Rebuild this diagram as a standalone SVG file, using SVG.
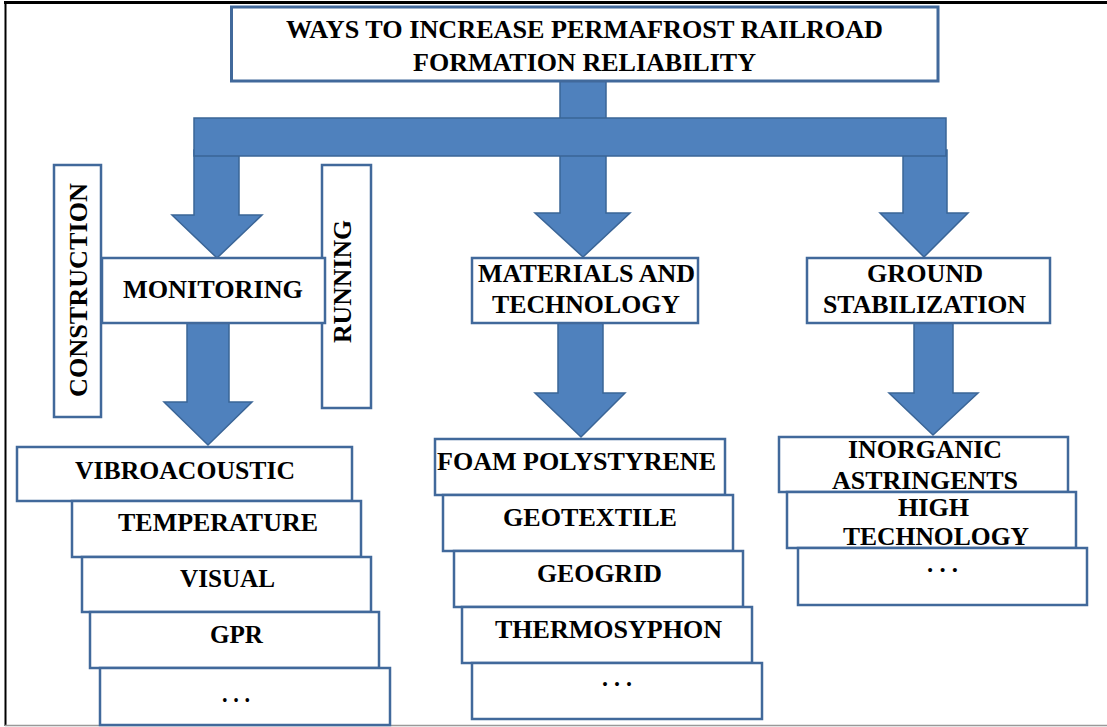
<svg xmlns="http://www.w3.org/2000/svg" width="1107" height="727" viewBox="0 0 1107 727">
<style>
.box{fill:#fff;stroke:#41699B;stroke-width:2.5}
.arr{fill:#4F81BD;stroke:#3A6597;stroke-width:1.5;stroke-linejoin:miter}
text{font-family:"Liberation Serif","Times New Roman",serif;font-weight:bold;font-size:26px;fill:#000}
.c{text-anchor:middle}
</style>
<rect x="0" y="0" width="1107" height="727" fill="#fff"/>
<line x1="4" y1="2.5" x2="1107" y2="2.5" stroke="#000" stroke-width="3"/>
<line x1="5.5" y1="1" x2="5.5" y2="726" stroke="#000" stroke-width="2"/>
<line x1="5" y1="725.5" x2="1107" y2="725.5" stroke="#999" stroke-width="1.5"/>

<g id="connectors">
<rect class="arr" x="560" y="81" width="46" height="38"/>
<polygon class="arr" points="194,150 239,150 239,215 262,215 217,258 172,215 194,215"/>
<polygon class="arr" points="560,150 606,150 606,213 630,213 583,257 535,213 560,213"/>
<polygon class="arr" points="903,150 947,150 947,213 968,213 924,257 880,213 903,213"/>
<rect class="arr" x="194" y="118" width="752" height="38"/>
<polygon class="arr" points="187,323 229,323 229,402 252,402 208,445 164,402 187,402"/>
<polygon class="arr" points="558,323 603,323 603,393 625,393 581,437 535,393 558,393"/>
<polygon class="arr" points="914,323 953,323 953,393 978,393 933,435 889,393 914,393"/>
</g>

<g id="title">
<rect class="box" x="231.5" y="7" width="706.5" height="74" style="stroke-width:3"/>
<text x="584.5" y="38" class="c" textLength="597" lengthAdjust="spacingAndGlyphs" style="font-size:25px">WAYS TO INCREASE PERMAFROST RAILROAD</text>
<text x="584.5" y="71" class="c" textLength="343" lengthAdjust="spacingAndGlyphs" style="font-size:25px">FORMATION RELIABILITY</text>
</g>

<g id="construction">
<rect class="box" x="54" y="165" width="47" height="252"/>
<text transform="translate(87,290) rotate(-90)" class="c" textLength="214" lengthAdjust="spacingAndGlyphs">CONSTRUCTION</text>
</g>
<g id="running">
<rect class="box" x="322" y="165" width="49" height="243"/>
<text transform="translate(351,281.5) rotate(-90)" class="c" textLength="123" lengthAdjust="spacingAndGlyphs">RUNNING</text>
</g>
<g id="monitoring">
<rect class="box" x="102" y="258" width="223" height="65"/>
<text x="213" y="298" class="c" textLength="180" lengthAdjust="spacingAndGlyphs">MONITORING</text>
</g>

<g id="vibroacoustic">
<rect class="box" x="17" y="447" width="335" height="54"/>
<text x="185" y="479" class="c" textLength="220" lengthAdjust="spacingAndGlyphs">VIBROACOUSTIC</text>
</g>
<g id="temperature">
<rect class="box" x="72" y="501" width="289" height="56"/>
<text x="218" y="531" class="c" textLength="200" lengthAdjust="spacingAndGlyphs">TEMPERATURE</text>
</g>
<g id="visual">
<rect class="box" x="82" y="557" width="289" height="55"/>
<text x="227.5" y="587" class="c" textLength="95" lengthAdjust="spacingAndGlyphs">VISUAL</text>
</g>
<g id="gpr">
<rect class="box" x="90" y="612" width="289" height="56"/>
<text x="236.5" y="643" class="c" textLength="53" lengthAdjust="spacingAndGlyphs">GPR</text>
</g>
<g id="monitoring-more">
<rect class="box" x="100" y="668" width="290" height="57"/>
<text x="236" y="702" class="c" textLength="28" lengthAdjust="spacingAndGlyphs">. . .</text>
</g>

<g id="materials">
<rect class="box" x="472" y="258" width="226" height="65"/>
<text x="586.5" y="282" class="c" textLength="217" lengthAdjust="spacingAndGlyphs">MATERIALS AND</text>
<text x="586" y="313" class="c" textLength="188" lengthAdjust="spacingAndGlyphs">TECHNOLOGY</text>
</g>
<g id="foam">
<rect class="box" x="435" y="439" width="290" height="56"/>
<text x="576.5" y="470" class="c" textLength="279" lengthAdjust="spacingAndGlyphs">FOAM POLYSTYRENE</text>
</g>
<g id="geotextile">
<rect class="box" x="443" y="495" width="290" height="56"/>
<text x="590" y="526" class="c" textLength="174" lengthAdjust="spacingAndGlyphs">GEOTEXTILE</text>
</g>
<g id="geogrid">
<rect class="box" x="454" y="551" width="289" height="56"/>
<text x="599.5" y="582" class="c" textLength="125" lengthAdjust="spacingAndGlyphs">GEOGRID</text>
</g>
<g id="thermosyphon">
<rect class="box" x="462" y="607" width="290" height="56"/>
<text x="608.5" y="638" class="c" textLength="227" lengthAdjust="spacingAndGlyphs">THERMOSYPHON</text>
</g>
<g id="materials-more">
<rect class="box" x="472" y="663" width="290" height="56"/>
<text x="617" y="686" class="c" textLength="30" lengthAdjust="spacingAndGlyphs">. . .</text>
</g>

<g id="ground">
<rect class="box" x="807" y="258" width="243" height="65"/>
<text x="925" y="282" class="c" textLength="116" lengthAdjust="spacingAndGlyphs">GROUND</text>
<text x="924.5" y="313" class="c" textLength="203" lengthAdjust="spacingAndGlyphs">STABILIZATION</text>
</g>
<g id="inorganic">
<rect class="box" x="779" y="437" width="289" height="55"/>
<text x="925" y="458" class="c" textLength="154" lengthAdjust="spacingAndGlyphs">INORGANIC</text>
<text x="925" y="489" class="c" textLength="186" lengthAdjust="spacingAndGlyphs">ASTRINGENTS</text>
</g>
<g id="hightech">
<rect class="box" x="787" y="492" width="289" height="56"/>
<text x="933.5" y="516" class="c" textLength="71" lengthAdjust="spacingAndGlyphs">HIGH</text>
<text x="936" y="545" class="c" textLength="186" lengthAdjust="spacingAndGlyphs">TECHNOLOGY</text>
</g>
<g id="ground-more">
<rect class="box" x="798" y="548" width="289" height="57"/>
<text x="942.5" y="572" class="c" textLength="31" lengthAdjust="spacingAndGlyphs">. . .</text>
</g>
</svg>
